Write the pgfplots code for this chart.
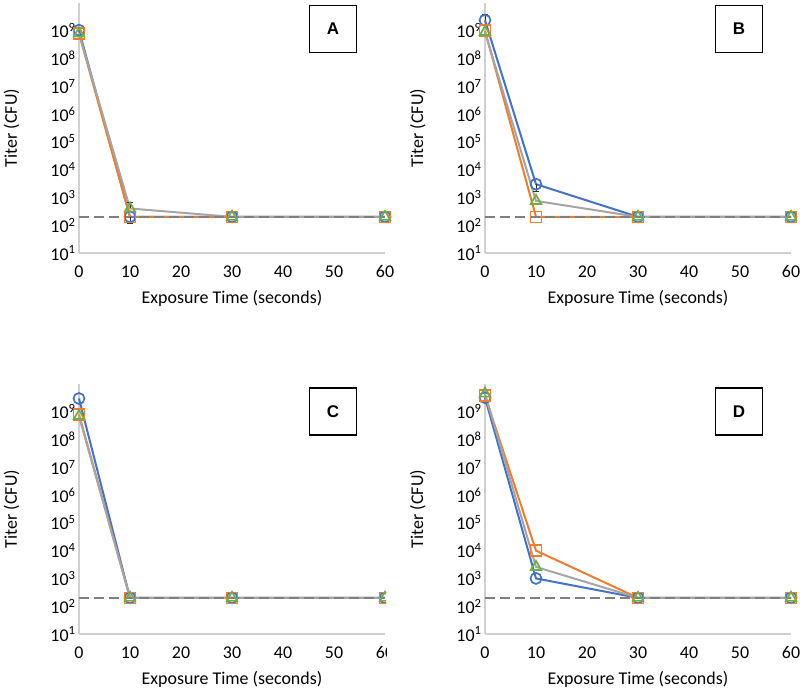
\documentclass[border=0pt]{standalone}
\usepackage{pgfplots}
\pgfplotsset{compat=1.18}
\usepackage{fontspec}
\setmainfont{Carlito}
\newfontfamily\boxfont{Liberation Sans}
\definecolor{cblue}{HTML}{4472C4}
\definecolor{corange}{HTML}{ED7D31}
\definecolor{cgray}{HTML}{A5A5A5}
\definecolor{cgreen}{HTML}{70AD47}
\definecolor{cdash}{HTML}{7F7F7F}
\definecolor{caxis}{HTML}{D0D0D0}
\tikzset{
  zzlb/.style={cblue, line width=2bp},
  zzlo/.style={corange, line width=2bp},
  zzlg/.style={cgray, line width=2bp},
  zzmb/.style={mark=o, mark size=5.5bp, mark options={cblue, line width=1.7bp}},
  zzmo/.style={mark=square, mark size=5.5bp, mark options={corange, line width=1.7bp}},
  zzmg/.style={mark=triangle, mark size=6bp, mark options={cgreen, line width=1.7bp}},
  zzdl/.style={cdash, line width=2bp, dash pattern=on 10bp off 5bp},
  zzbox/.style={draw=black, line width=1.3bp, minimum width=47bp, minimum height=47bp,
    font=\boxfont\bfseries\fontsize{17}{17}\selectfont, inner sep=0pt},
}
\pgfplotsset{
  every axis/.append style={
    scale only axis, width=306bp, height=250bp,
    xmin=0, xmax=60, ymin=10, ymax=1e10,
    axis lines*=left,
    axis line style={caxis, line width=1.2bp},
    xtick={0,10,20,30,40,50,60},
    major tick length=0pt, minor tick length=0pt,
    /pgf/number format/assume math mode=true,
    tick label style={font=\fontsize{18}{19}\selectfont, text=black},
    xticklabel style={yshift=-9bp},
    ylabel={Titer (CFU)}, xlabel={Exposure Time (seconds)},
    label style={font=\fontsize{18}{19}\selectfont, text=black},
    clip=false,
  },
  every axis y label/.style={at={(axis description cs:-0.22,0.5)}, rotate=90, anchor=center},
  every axis x label/.style={at={(axis description cs:0.5,-0.18)}, anchor=center},
}
\begin{document}
\begin{tikzpicture}
\useasboundingbox (0,0) rectangle (800bp,689bp);
% ---------- A ----------
\begin{semilogyaxis}[at={(79bp,436bp)}, anchor=south west,
    ytick={10,100,1000,10000,100000,1000000,10000000,100000000,1000000000},
    yticklabels={10\textsuperscript{1},10\textsuperscript{2},10\textsuperscript{3},10\textsuperscript{4},10\textsuperscript{5},10\textsuperscript{6},10\textsuperscript{7},10\textsuperscript{8},10\textsuperscript{9}}]
\addplot[zzlb, mark=none] coordinates {(0,1.05e9) (10,200) (30,200) (60,200)};
\addplot[zzlo, mark=none] coordinates {(0,8e8) (10,200) (30,200) (60,200)};
\addplot[zzlg, mark=none] coordinates {(0,8e8) (10,400) (30,200) (60,200)};
\addplot[zzdl, mark=none] coordinates {(0,200) (60,200)};
\addplot[black!80, line width=0.8bp, mark=none,
    error bars/.cd, y dir=minus, y explicit,
    error bar style={black!80, line width=0.8bp},
    error mark options={rotate=90, mark size=3bp, black!80}]
    coordinates {(10,200) -= (0,82)};
\addplot[black!80, line width=0.8bp, mark=none,
    error bars/.cd, y dir=plus, y explicit,
    error bar style={black!80, line width=0.8bp},
    error mark options={rotate=90, mark size=3bp, black!80}]
    coordinates {(10,400) += (0,290)};
\addplot[only marks, zzmb] coordinates {(0,1.05e9) (10,200) (30,200) (60,200)};
\addplot[only marks, zzmo] coordinates {(0,8e8) (10,200) (30,200) (60,200)};
\addplot[only marks, zzmg] coordinates {(0,8e8) (10,400) (30,200) (60,200)};
\node[zzbox] at (axis description cs:0.83,0.896) {A};
\end{semilogyaxis}
% ---------- B ----------
\begin{semilogyaxis}[at={(485bp,436bp)}, anchor=south west,
    ytick={10,100,1000,10000,100000,1000000,10000000,100000000,1000000000},
    yticklabels={10\textsuperscript{1},10\textsuperscript{2},10\textsuperscript{3},10\textsuperscript{4},10\textsuperscript{5},10\textsuperscript{6},10\textsuperscript{7},10\textsuperscript{8},10\textsuperscript{9}}]
\addplot[zzlb, mark=none] coordinates {(0,2.4e9) (10,3000) (30,200) (60,200)};
\addplot[zzlo, mark=none] coordinates {(0,1e9) (10,200) (30,200) (60,200)};
\addplot[zzlg, mark=none] coordinates {(0,9e8) (10,750) (30,200) (60,200)};
\addplot[zzdl, mark=none] coordinates {(0,200) (60,200)};
\addplot[black!80, line width=0.8bp, mark=none,
    error bars/.cd, y dir=plus, y explicit,
    error bar style={black!80, line width=0.8bp},
    error mark options={rotate=90, mark size=3bp, black!80}]
    coordinates {(0,2.4e9) += (0,1.4e9)};
\addplot[black!80, line width=0.8bp, mark=none,
    error bars/.cd, y dir=minus, y explicit,
    error bar style={black!80, line width=0.8bp},
    error mark options={rotate=90, mark size=3bp, black!80}]
    coordinates {(10,3000) -= (0,1300)};
\addplot[only marks, zzmb] coordinates {(0,2.4e9) (10,3000) (30,200) (60,200)};
\addplot[only marks, zzmo] coordinates {(0,1e9) (10,200) (30,200) (60,200)};
\addplot[only marks, zzmg] coordinates {(0,9e8) (10,750) (30,200) (60,200)};
\node[zzbox] at (axis description cs:0.83,0.896) {B};
\end{semilogyaxis}
% ---------- C ----------
\begin{scope}
\clip (0,0) rectangle (386bp,345bp);
\begin{semilogyaxis}[at={(79bp,55bp)}, anchor=south west,
    ytick={10,100,1000,10000,100000,1000000,10000000,100000000,1000000000},
    yticklabels={10\textsuperscript{1},10\textsuperscript{2},10\textsuperscript{3},10\textsuperscript{4},10\textsuperscript{5},10\textsuperscript{6},10\textsuperscript{7},10\textsuperscript{8},10\textsuperscript{9}}]
\addplot[zzlb, mark=none] coordinates {(0,3e9) (10,200) (30,200) (60,200)};
\addplot[zzlo, mark=none] coordinates {(0,8e8) (10,200) (30,200) (60,200)};
\addplot[zzlg, mark=none] coordinates {(0,7e8) (10,200) (30,200) (60,200)};
\addplot[zzdl, mark=none] coordinates {(0,200) (60,200)};
\addplot[only marks, zzmb] coordinates {(0,3e9) (10,200) (30,200) (60,200)};
\addplot[only marks, zzmo] coordinates {(0,8e8) (10,200) (30,200) (60,200)};
\addplot[only marks, zzmg] coordinates {(0,7e8) (10,200) (30,200) (60,200)};
\node[zzbox] at (axis description cs:0.83,0.89) {C};
\end{semilogyaxis}
\end{scope}
% ---------- D ----------
\begin{semilogyaxis}[at={(485bp,55bp)}, anchor=south west,
    ytick={10,100,1000,10000,100000,1000000,10000000,100000000,1000000000},
    yticklabels={10\textsuperscript{1},10\textsuperscript{2},10\textsuperscript{3},10\textsuperscript{4},10\textsuperscript{5},10\textsuperscript{6},10\textsuperscript{7},10\textsuperscript{8},10\textsuperscript{9}}]
\addplot[zzlb, mark=none] coordinates {(0,3.2e9) (10,1000) (30,200) (60,200)};
\addplot[zzlo, mark=none] coordinates {(0,3.8e9) (10,1e4) (30,200) (60,200)};
\addplot[zzlg, mark=none] coordinates {(0,4.5e9) (10,2600) (30,200) (60,200)};
\addplot[zzdl, mark=none] coordinates {(0,200) (60,200)};
\addplot[only marks, zzmb] coordinates {(0,3.2e9) (10,1000) (30,200) (60,200)};
\addplot[only marks, zzmo] coordinates {(0,3.8e9) (10,1e4) (30,200) (60,200)};
\addplot[only marks, zzmg] coordinates {(0,4.5e9) (10,2600) (30,200) (60,200)};
\node[zzbox] at (axis description cs:0.83,0.89) {D};
\end{semilogyaxis}
\end{tikzpicture}
\end{document}
